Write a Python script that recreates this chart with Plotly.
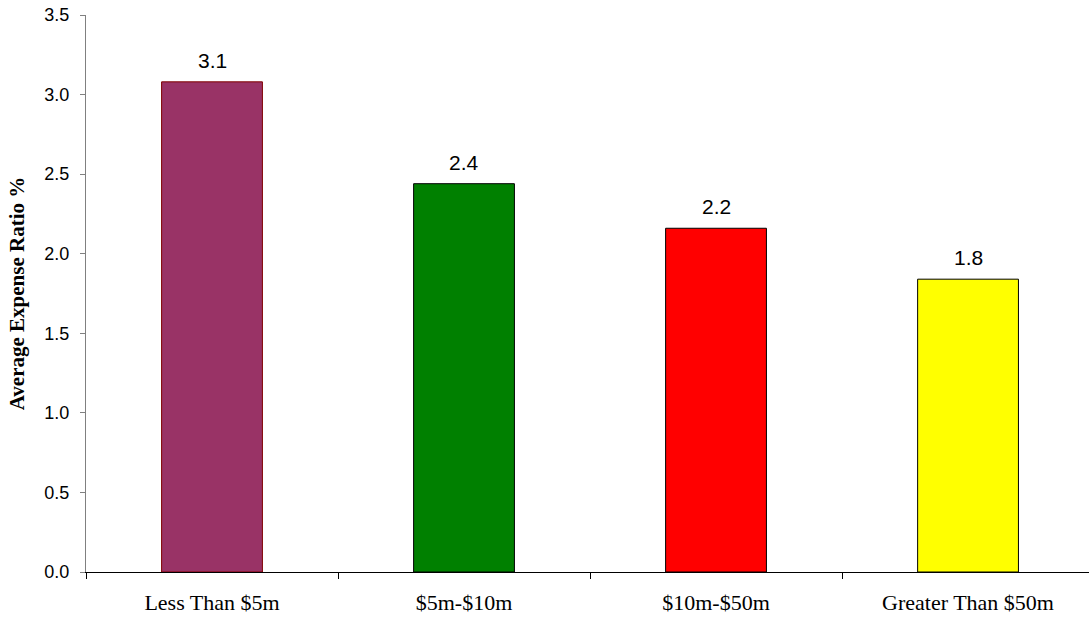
import plotly.graph_objects as go

categories = ["Less Than $5m", "$5m-$10m", "$10m-$50m", "Greater Than $50m"]
values = [3.08, 2.44, 2.16, 1.84]
fill_colors = ["#993366", "#008000", "#FF0000", "#FFFF00"]
line_colors = ["#800000", "#000000", "#000000", "#000000"]
y_ticks = [0.0, 0.5, 1.0, 1.5, 2.0, 2.5, 3.0, 3.5]

xpos = list(range(len(categories)))

fig = go.Figure()
fig.add_trace(go.Bar(
    x=xpos, y=values, width=0.4,
    marker=dict(color=fill_colors, line=dict(color=line_colors, width=1)),
    showlegend=False,
))
# invisible trace for boundary tick axis
fig.add_trace(go.Scatter(x=[-0.5], y=[0], xaxis="x2", mode="markers",
                         marker=dict(opacity=0), showlegend=False, hoverinfo="skip"))

for xi, v in zip(xpos, values):
    fig.add_annotation(x=xi, y=v, text=f"{v:.1f}", showarrow=False,
                       yanchor="bottom", yshift=8,
                       font=dict(family="Liberation Sans, Arial", size=21, color="black"))

xr = [-0.5, 3.48]
fig.update_layout(
    width=1089, height=618,
    margin=dict(l=86, r=0, t=15, b=46),
    plot_bgcolor="white", paper_bgcolor="white",
    xaxis=dict(range=xr, tickmode="array", tickvals=xpos, ticktext=categories,
               ticks="", showline=True, linecolor="black", linewidth=1,
               ticklabelstandoff=11, automargin=False,
               tickfont=dict(family="Liberation Serif, Times New Roman", size=22, color="black"),
               showgrid=False, zeroline=False),
    xaxis2=dict(range=xr, overlaying="x", anchor="y", side="bottom",
                tickmode="array", tickvals=[-0.5, 0.5, 1.5, 2.5],
                ticks="outside", ticklen=6, tickcolor="black", tickwidth=1,
                showticklabels=False, showgrid=False, zeroline=False, showline=False),
    yaxis=dict(range=[0, 3.5], tickmode="array", tickvals=y_ticks,
               ticktext=[f"{v:.1f}" for v in y_ticks],
               ticks="outside", ticklen=5, tickcolor="#808080",
               showline=True, linecolor="#808080", linewidth=1,
               ticklabelstandoff=7,
               tickfont=dict(family="Liberation Sans, Arial", size=18, color="black"),
               showgrid=False, zeroline=False, automargin=False,
               title=dict(text="<b>Average Expense Ratio %</b>", standoff=14,
                          font=dict(family="Liberation Serif, Times New Roman", size=21, color="black"))),
)

fig.write_html("out.html")
